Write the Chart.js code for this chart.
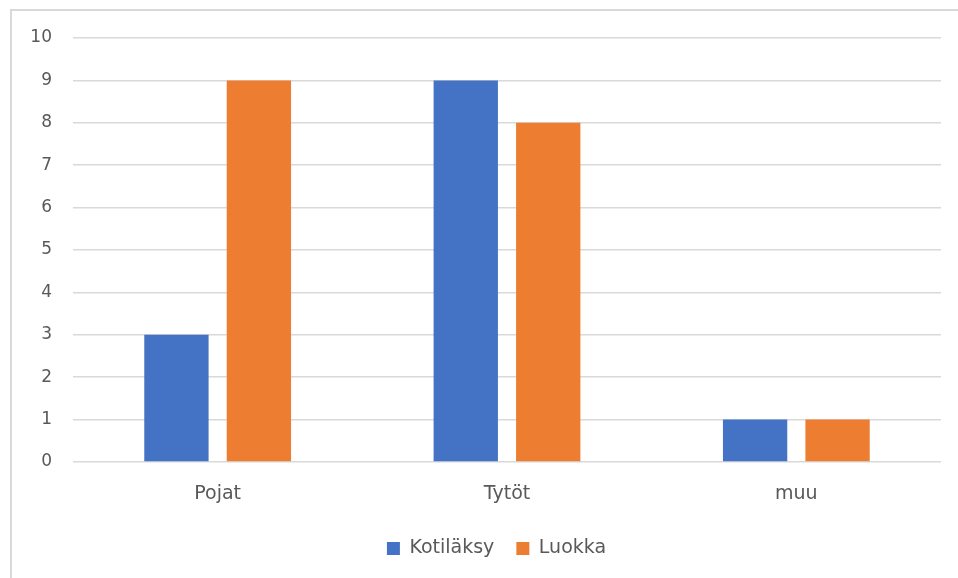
<!DOCTYPE html>
<html>
<head>
<meta charset="utf-8">
<script src="https://cdn.jsdelivr.net/npm/chart.js@4/dist/chart.umd.min.js"></script>
<style>
html,body{margin:0;padding:0;background:#fff;overflow:hidden;}
#wrap{position:absolute;left:0;top:0;width:958px;height:578px;}
#frame{position:absolute;left:10px;top:9px;width:1000px;height:1000px;border:2px solid #d9d9d9;pointer-events:none;}
</style>
</head>
<body>
<div id="wrap"><canvas id="c" width="958" height="578"></canvas></div>
<div id="frame"></div>
<script>
const categories = ["Pojat", "Tytöt", "muu"];
const kotilaksy = [3, 9, 1];
const luokka = [9, 8, 1];
const yTicks = [0,1,2,3,4,5,6,7,8,9,10];

const font = "'DejaVu Sans', 'Open Sans', sans-serif";
const shiftLegend = {
  id: 'shiftLegend',
  afterLayout(chart) {
    if (chart.legend) { chart.legend.left = 52; }
  }
};
new Chart(document.getElementById('c'), {
  type: 'bar',
  data: {
    labels: categories,
    datasets: [
      {label: 'Kotiläksy', data: kotilaksy, backgroundColor: '#4472C4', categoryPercentage: 0.57, barPercentage: 0.78},
      {label: 'Luokka', data: luokka, backgroundColor: '#ED7D31', categoryPercentage: 0.57, barPercentage: 0.78}
    ]
  },
  plugins: [shiftLegend],
  options: {
    responsive: false,
    animation: false,
    layout: {padding: {left: 0, right: 17, top: 38, bottom: 10}},
    plugins: {
      tooltip: {enabled: false},
      legend: {
        position: 'bottom',
        labels: {boxWidth: 13, boxHeight: 13, color: '#595959', font: {family: font, size: 19}, padding: 22}
      }
    },
    scales: {
      x: {
        grid: {display: false, drawTicks: false},
        border: {display: false},
        afterFit: s => { s.height = 55; },
        ticks: {color: '#595959', font: {family: font, size: 19}, padding: 21}
      },
      y: {
        min: 0, max: 10,
        afterFit: s => { s.width = 73; },
        afterBuildTicks: s => { s.ticks = yTicks.map(v => ({value: v})); },
        grid: {color: '#d9d9d9', lineWidth: 1.5, drawTicks: false},
        border: {display: false},
        ticks: {color: '#595959', font: {family: font, size: 17}, padding: 21, stepSize: 1}
      }
    }
  }
});
</script>
</body>
</html>
